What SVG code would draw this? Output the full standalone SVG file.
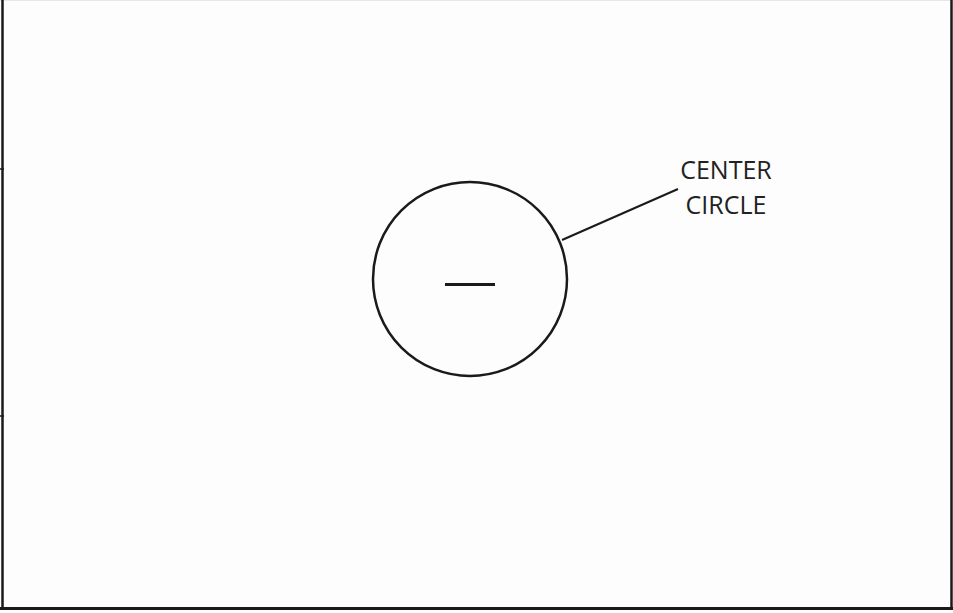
<svg xmlns="http://www.w3.org/2000/svg" width="953" height="613" viewBox="0 0 953 613">
<style>
.ln{stroke:#1a1a1a;fill:none}
.lbl{font-family:"Open Sans","Noto Sans",sans-serif;font-size:25px;fill:#222;text-anchor:middle}
</style>
<rect x="0" y="0" width="953" height="613" fill="#fdfdfd"/>
<g id="frame">
<line class="ln" x1="0" y1="0.5" x2="953" y2="0.5" stroke="#e6e6e6" style="stroke:#e6e6e6"/>
<line class="ln" x1="2.5" y1="0" x2="2.5" y2="610" stroke-width="2.5"/>
<line class="ln" x1="951.5" y1="0" x2="951.5" y2="610" stroke-width="2.5"/>
<line class="ln" x1="0" y1="608.5" x2="953" y2="608.5" stroke-width="3"/>
<line class="ln" x1="0" y1="169" x2="4" y2="169" stroke-width="1.5"/>
<line class="ln" x1="0" y1="416" x2="4" y2="416" stroke-width="1.5"/>
</g>
<g id="center-circle">
<circle class="ln" cx="470" cy="279" r="97" stroke-width="2.5"/>
<line class="ln" x1="445" y1="284.5" x2="495" y2="284.5" stroke-width="3"/>
</g>
<g id="connectors">
<line class="ln" x1="562" y1="240" x2="678" y2="189" stroke-width="2"/>
</g>
<g id="label">
<text class="lbl" x="726" y="179">CENTER</text>
<text class="lbl" x="726" y="214">CIRCLE</text>
</g>
</svg>
